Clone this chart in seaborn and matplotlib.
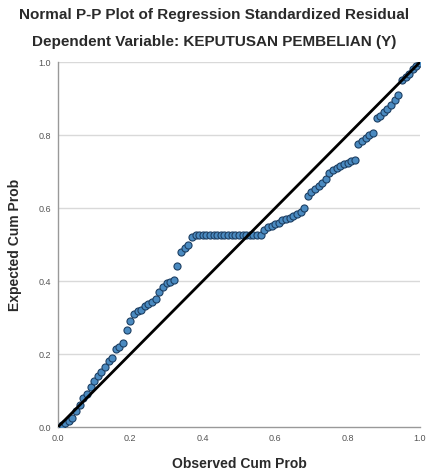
#normal p-p plot of regression standardized residual
import pandas as pd
import seaborn as sns
import matplotlib.pyplot as plt

observed = [0.01, 0.02, 0.03, 0.04, 0.05, 0.06, 0.07, 0.08, 0.09, 0.10,
            0.11, 0.12, 0.13, 0.14, 0.15, 0.16, 0.17, 0.18, 0.19, 0.20,
            0.21, 0.22, 0.23, 0.24, 0.25, 0.26, 0.27, 0.28, 0.29, 0.30,
            0.31, 0.32, 0.33, 0.34, 0.35, 0.36, 0.37, 0.38, 0.39, 0.40,
            0.41, 0.42, 0.43, 0.44, 0.45, 0.46, 0.47, 0.48, 0.49, 0.50,
            0.51, 0.52, 0.53, 0.54, 0.55, 0.56, 0.57, 0.58, 0.59, 0.60,
            0.61, 0.62, 0.63, 0.64, 0.65, 0.66, 0.67, 0.68, 0.69, 0.70,
            0.71, 0.72, 0.73, 0.74, 0.75, 0.76, 0.77, 0.78, 0.79, 0.80,
            0.81, 0.82, 0.83, 0.84, 0.85, 0.86, 0.87, 0.88, 0.89, 0.90,
            0.91, 0.92, 0.93, 0.94, 0.95, 0.96, 0.97, 0.98, 0.99, 1.00]
expected = [0.005, 0.010, 0.018, 0.025, 0.045, 0.060, 0.080, 0.090, 0.110, 0.125,
            0.140, 0.150, 0.165, 0.180, 0.190, 0.215, 0.220, 0.230, 0.265, 0.290,
            0.310, 0.318, 0.322, 0.333, 0.338, 0.343, 0.350, 0.370, 0.385, 0.394,
            0.398, 0.403, 0.440, 0.480, 0.490, 0.500, 0.520, 0.525, 0.525, 0.525,
            0.525, 0.525, 0.525, 0.525, 0.525, 0.525, 0.525, 0.525, 0.525, 0.525,
            0.525, 0.525, 0.525, 0.525, 0.526, 0.527, 0.540, 0.548, 0.552, 0.556,
            0.560, 0.566, 0.570, 0.574, 0.578, 0.584, 0.590, 0.600, 0.632, 0.645,
            0.652, 0.660, 0.668, 0.680, 0.695, 0.704, 0.710, 0.716, 0.720, 0.724,
            0.728, 0.733, 0.775, 0.785, 0.792, 0.800, 0.806, 0.846, 0.852, 0.862,
            0.872, 0.882, 0.895, 0.910, 0.950, 0.958, 0.968, 0.980, 0.990, 0.998]
ticks = [0.0, 0.2, 0.4, 0.6, 0.8, 1.0]
tick_labels = ['0.0', '0.2', '0.4', '0.6', '0.8', '1.0']

data = pd.DataFrame({'Observed Cum Prob': observed, 'Expected Cum Prob': expected})

sns.set_style('white')
plt.rcParams['font.family'] = ['Liberation Sans', 'DejaVu Sans']

fig = plt.figure(figsize=(4.29, 4.74), dpi=100)
ax = fig.add_axes([0.135, 0.099, 0.844, 0.770])

# horizontal grid only, like spss
for t in ticks[1:]:
    ax.axhline(t, color='#d9d9d9', linewidth=1, zorder=0)

sns.scatterplot(data=data, x='Observed Cum Prob', y='Expected Cum Prob', ax=ax,
                s=26, color='#4a8ac0', edgecolor='#1d3f63', linewidth=0.8, zorder=3)

# reference diagonal
sns.lineplot(x=[0, 1], y=[0, 1], ax=ax, color='black', linewidth=2, zorder=4)

ax.set_xlim(0, 1)
ax.set_ylim(0, 1)
ax.set_xticks(ticks)
ax.set_xticklabels(tick_labels)
ax.set_yticks(ticks)
ax.set_yticklabels(tick_labels)
ax.tick_params(axis='both', labelsize=6.5, colors='#777777', length=3, width=0.8,
               direction='out', pad=2)
ax.tick_params(axis='both', labelcolor='#555555')

for side in ['top', 'right']:
    ax.spines[side].set_visible(False)
for side in ['left', 'bottom']:
    ax.spines[side].set_color('#999999')
    ax.spines[side].set_linewidth(1)

ax.set_xlabel('Observed Cum Prob', fontsize=10, fontweight='bold', color='#2a2a2a', labelpad=10)
ax.set_ylabel('Expected Cum Prob', fontsize=10, fontweight='bold', color='#2a2a2a', labelpad=12)

fig.text(0.5, 0.968, 'Normal P-P Plot of Regression Standardized Residual',
         ha='center', va='center', fontsize=11, fontweight='bold', color='#2a2a2a')
fig.text(0.5, 0.911, 'Dependent Variable: KEPUTUSAN PEMBELIAN (Y)',
         ha='center', va='center', fontsize=11, fontweight='bold', color='#2a2a2a')

fig.savefig('out.png', dpi=100)
